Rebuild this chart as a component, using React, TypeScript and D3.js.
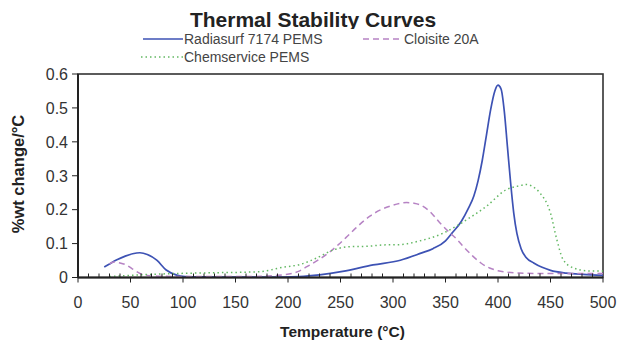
import React from "react";
import * as d3 from "d3";

const xTicks = [0, 50, 100, 150, 200, 250, 300, 350, 400, 450, 500];
const yTicks = [0, 0.1, 0.2, 0.3, 0.4, 0.5, 0.6];
const yTickLabels = ["0", "0.1", "0.2", "0.3", "0.4", "0.5", "0.6"];

const seriesNames = ["Radiasurf 7174 PEMS", "Cloisite 20A", "Chemservice PEMS"];

const radiasurfT = [25, 30, 37, 45, 52, 59, 66, 75, 84, 94, 102, 120, 150, 180, 211, 230, 252, 281, 307, 326, 338, 350, 356, 365, 372, 377, 381, 385, 389, 393, 397, 400, 403, 406, 409, 412, 415, 418, 422, 427, 434, 442, 450, 465, 481, 500];
const radiasurfY = [0.031, 0.04, 0.052, 0.063, 0.07, 0.073, 0.068, 0.051, 0.022, 0.007, 0.003, 0.002, 0.001, 0.001, 0.003, 0.008, 0.018, 0.037, 0.051, 0.071, 0.085, 0.108, 0.13, 0.165, 0.205, 0.24, 0.285, 0.345, 0.42, 0.495, 0.55, 0.567, 0.555, 0.49, 0.385, 0.28, 0.19, 0.13, 0.085, 0.058, 0.043, 0.03, 0.021, 0.013, 0.009, 0.006];

const cloisiteT = [30, 34, 40, 46, 52, 59, 65, 75, 100, 130, 164, 195, 210, 218, 230, 240, 248, 256, 265, 278, 290, 298, 306, 313, 320, 326, 335, 345, 353, 361, 368, 376, 384, 392, 400, 408, 420, 440, 460, 480, 500];
const cloisiteY = [0.04, 0.046, 0.043, 0.037, 0.025, 0.012, 0.007, 0.004, 0.003, 0.003, 0.003, 0.008, 0.018, 0.032, 0.054, 0.076, 0.097, 0.12, 0.147, 0.181, 0.202, 0.211, 0.218, 0.221, 0.219, 0.214, 0.195, 0.16, 0.135, 0.112, 0.088, 0.063, 0.042, 0.028, 0.02, 0.016, 0.013, 0.012, 0.012, 0.012, 0.012];

const chemserviceT = [30, 60, 97, 130, 173, 195, 211, 227, 243, 259, 275, 291, 307, 323, 348, 370, 389, 408, 420, 427, 433, 440, 450, 456, 462, 472, 488, 500];
const chemserviceY = [0.003, 0.008, 0.012, 0.014, 0.017, 0.03, 0.038, 0.057, 0.081, 0.091, 0.092, 0.096, 0.097, 0.106, 0.131, 0.17, 0.21, 0.259, 0.27, 0.274, 0.268, 0.249, 0.19, 0.112, 0.053, 0.028, 0.019, 0.019];

const W = 620;
const H = 340;
const left = 78;
const right = 603;
const top = 74;
const bottom = 277.5;
const FONT = "'Liberation Sans', Arial, sans-serif";

export default function App() {
  const x = d3.scaleLinear().domain([0, 500]).range([left, right]);
  const y = d3.scaleLinear().domain([0, 0.6]).range([bottom, top]);
  const line = d3
    .line<[number, number]>()
    .x((d) => x(d[0]))
    .y((d) => y(d[1]))
    .curve(d3.curveMonotoneX);

  const zip = (t: number[], v: number[]) => t.map((tt, i) => [tt, v[i]] as [number, number]);
  const series = [
    { name: seriesNames[0], d: zip(radiasurfT, radiasurfY), color: "#3d52b4", width: 1.7, dash: "none" },
    { name: seriesNames[1], d: zip(cloisiteT, cloisiteY), color: "#b683c4", width: 1.5, dash: "6,4" },
    { name: seriesNames[2], d: zip(chemserviceT, chemserviceY), color: "#63b863", width: 1.5, dash: "1.5,3" },
  ];
  const minor = d3.range(0, 501, 10).filter((v) => v % 50 !== 0);

  return (
    <svg width={W} height={H} style={{ position: "absolute", left: 0, top: 0, background: "#fff" }} fontFamily={FONT}>
      <rect width={W} height={H} fill="#fff" />
      <text x={313} y={27} textAnchor="middle" fontSize={21} fontWeight="bold" fill="#222">
        Thermal Stability Curves
      </text>
      {/* legend */}
      <rect x={130} y={29} width={360} height={38} fill="#fff" />
      <line x1={143} x2={183} y1={39} y2={39} stroke={series[0].color} strokeWidth={1.5} />
      <text x={184} y={44} fontSize={14} fill="#444">{series[0].name}</text>
      <line x1={363} x2={403} y1={39} y2={39} stroke={series[1].color} strokeWidth={1.5} strokeDasharray="6,4" />
      <text x={404} y={44} fontSize={14} fill="#444">{series[1].name}</text>
      <line x1={141} x2={183} y1={57} y2={57} stroke={series[2].color} strokeWidth={1.5} strokeDasharray="1.5,3" />
      <text x={184} y={62} fontSize={14} fill="#444">{series[2].name}</text>

      {/* frame */}
      <rect x={left} y={top} width={right - left} height={bottom - top} fill="none" stroke="#333" strokeWidth={1.6} />

      {/* curves */}
      {series.map((s, i) => (
        <path key={i} d={line(s.d) || ""} fill="none" stroke={s.color} strokeWidth={s.width} strokeDasharray={s.dash} />
      ))}

      {/* axes lines */}
      <line x1={left} x2={right} y1={bottom} y2={bottom} stroke="#222" strokeWidth={2} />
      <line x1={left} x2={left} y1={top} y2={bottom} stroke="#222" strokeWidth={2} />

      {minor.map((v) => (
        <line key={"m" + v} x1={x(v)} x2={x(v)} y1={bottom} y2={bottom - 4} stroke="#222" strokeWidth={1} />
      ))}
      {xTicks.map((v) => (
        <g key={"x" + v}>
          <line x1={x(v)} x2={x(v)} y1={bottom} y2={bottom + 5} stroke="#222" strokeWidth={1} />
          <text x={x(v)} y={307.5} textAnchor="middle" fontSize={16} fill="#333">
            {v}
          </text>
        </g>
      ))}
      {yTicks.map((v, i) => (
        <g key={"y" + v}>
          <line x1={left - 6} x2={left} y1={y(v)} y2={y(v)} stroke="#222" strokeWidth={1} />
          <text x={68} y={y(v) + 5.8} textAnchor="end" fontSize={16} fill="#333">
            {yTickLabels[i]}
          </text>
        </g>
      ))}

      <text x={342.5} y={337} textAnchor="middle" fontSize={15.5} fontWeight="bold" fill="#222">
        Temperature (°C)
      </text>
      <text
        transform={`translate(24,174) rotate(-90)`}
        textAnchor="middle"
        fontSize={16.5}
        fontWeight="bold"
        fill="#222"
      >
        %wt change/°C
      </text>
    </svg>
  );
}
